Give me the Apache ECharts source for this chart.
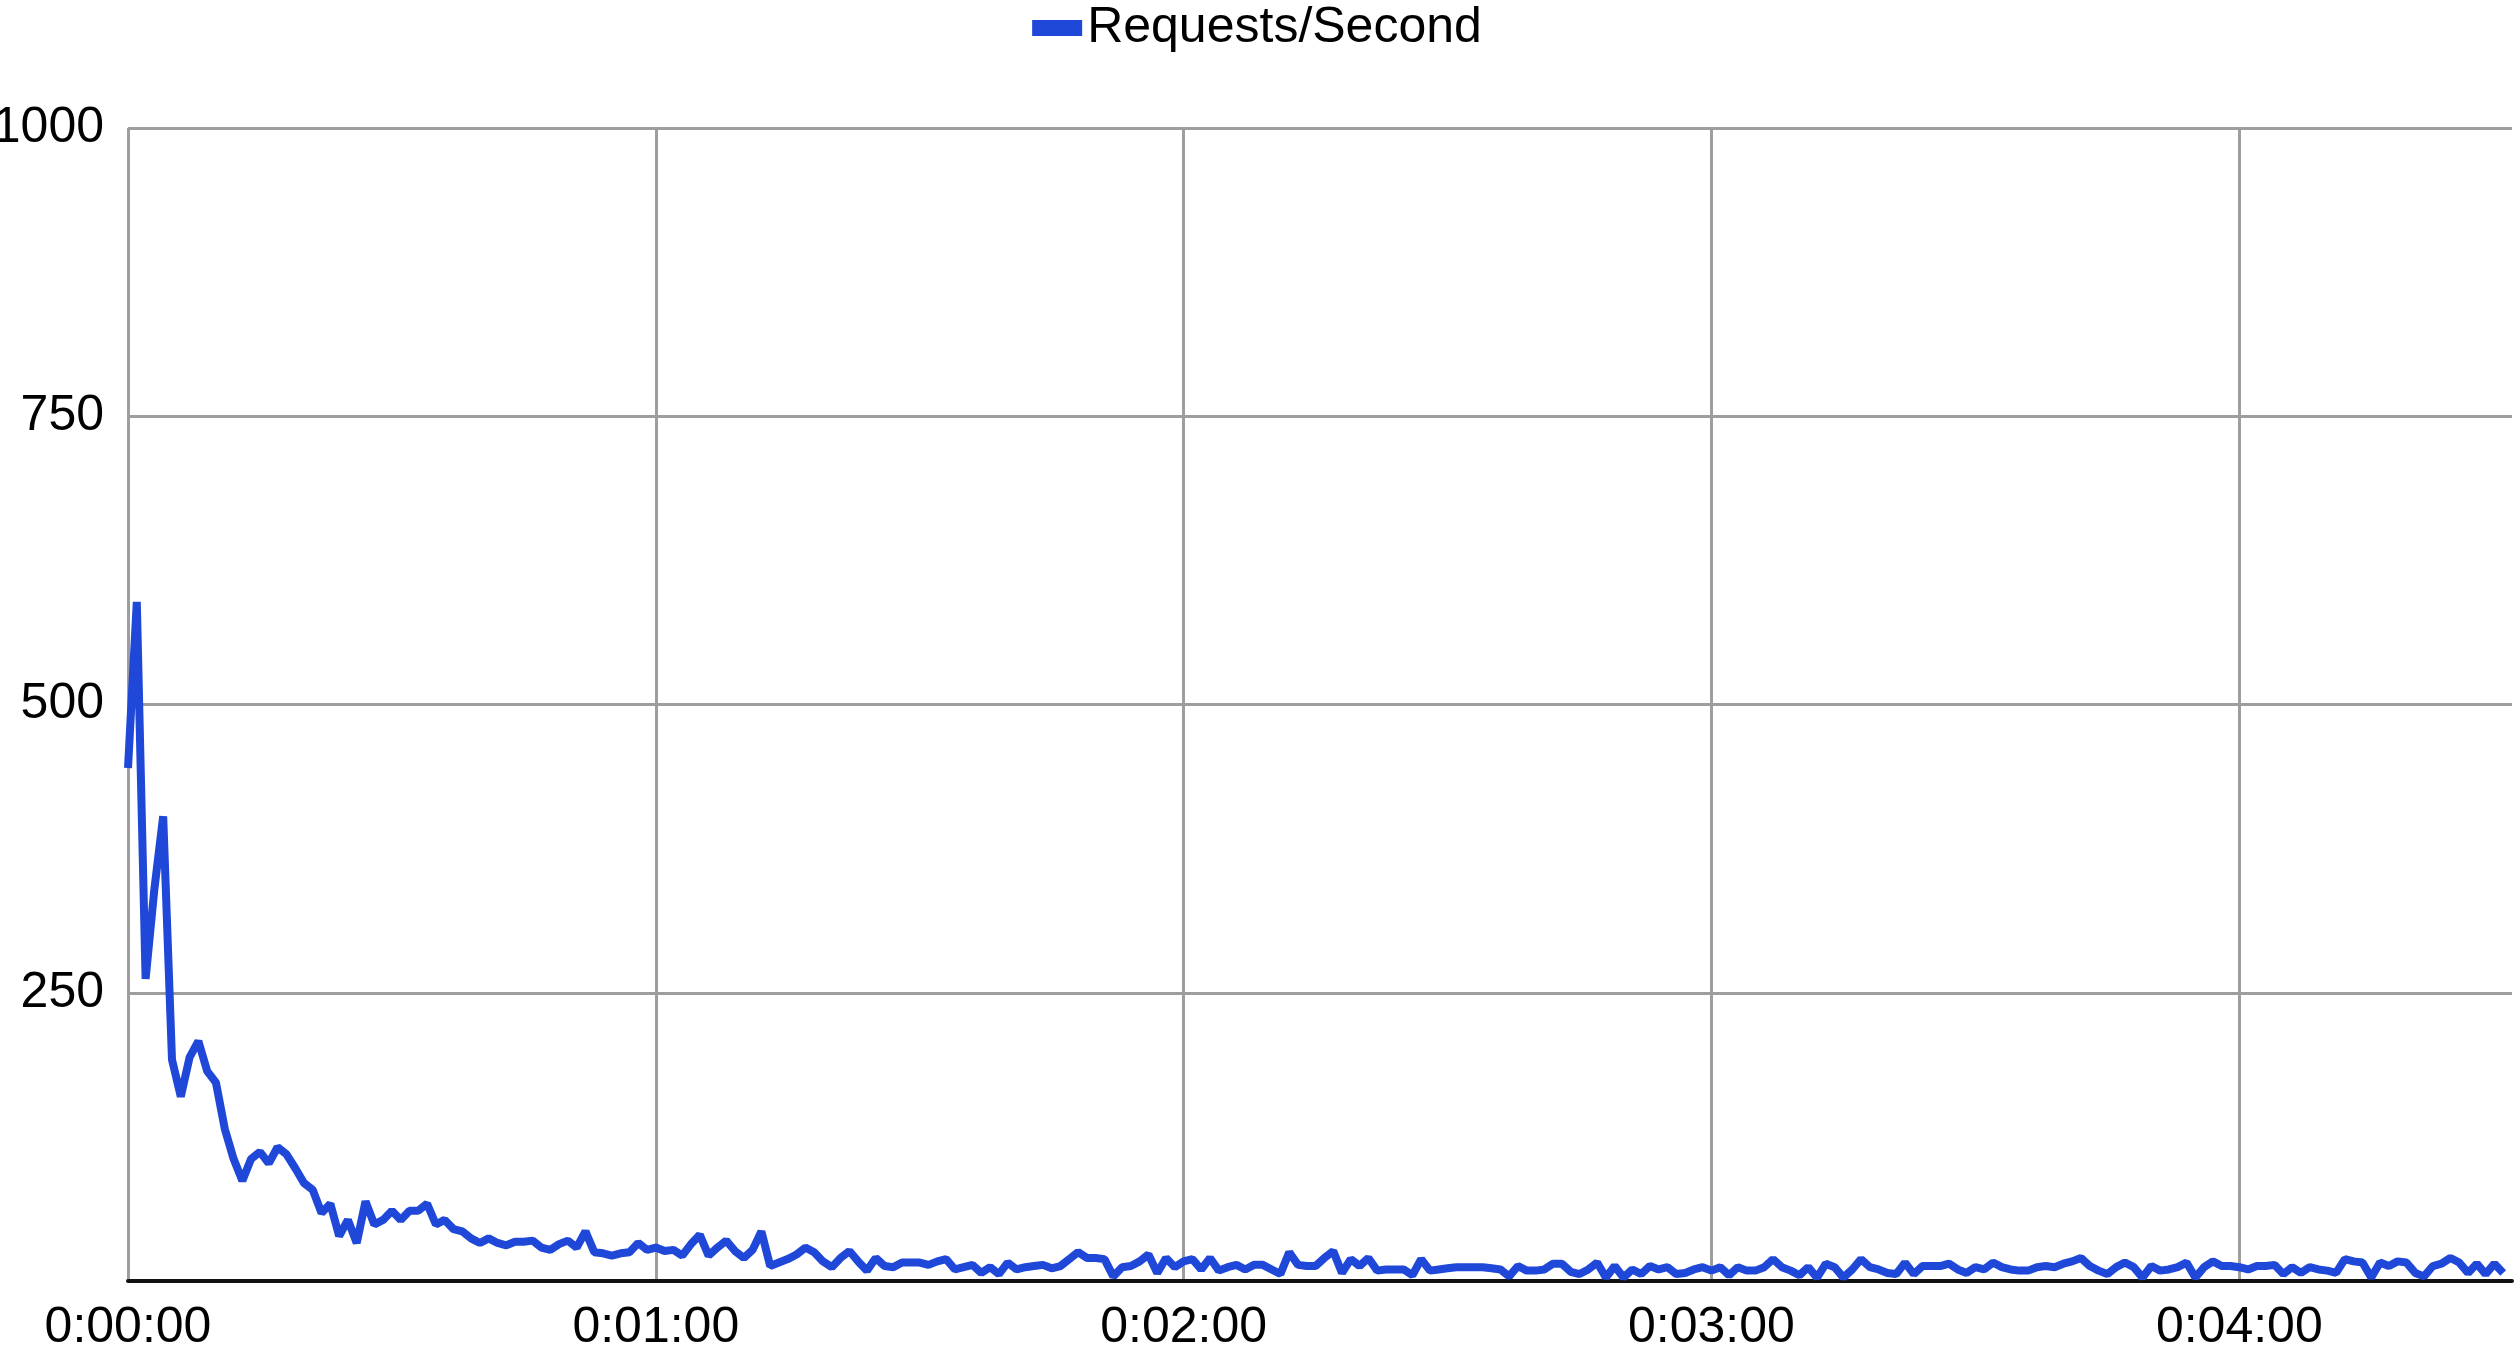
<!DOCTYPE html>
<html>
<head>
<meta charset="utf-8">
<script src="https://cdn.jsdelivr.net/npm/echarts@6/dist/echarts.min.js"></script>
<style>
html, body { margin: 0; padding: 0; background: #fff; }
#chart { width: 2514px; height: 1354px; }
</style>
</head>
<body>
<div id="chart"></div>
<script>
// 每秒请求数，从第 0 秒开始，每秒一个点
var seriesName = 'Requests/Second';
var requests = [
    445, 589, 262, 340, 403, 192, 160, 194, 208, 182,
    172, 132, 106, 87, 106, 112, 102, 116, 110, 98,
    85, 79, 59, 67, 39, 53, 33, 69, 49, 53,
    61, 53, 61, 61, 67, 49, 53, 45, 43, 37,
    33, 37, 33, 31, 34, 34, 35, 29, 27, 32,
    35, 29, 43, 25, 24, 22, 24, 25, 33, 27,
    29, 26, 27, 22, 32, 40, 22, 29, 35, 26,
    20, 27, 43, 13, 16, 19, 23, 29, 25, 17,
    12, 20, 26, 17, 9, 20, 13, 12, 16, 16,
    16, 14, 17, 19, 10, 12, 14, 7, 12, 6,
    16, 10, 12, 13, 14, 11, 13, 19, 25, 20,
    20, 19, 4, 12, 13, 17, 23, 7, 20, 12,
    17, 19, 10, 20, 9, 12, 14, 10, 14, 14,
    10, 6, 25, 14, 13, 13, 20, 26, 7, 19,
    13, 20, 9, 10, 10, 10, 5, 19, 9, 10,
    11, 12, 12, 12, 12, 11, 10, 4, 13, 9,
    9, 10, 15, 15, 8, 6, 10, 16, 3, 13,
    3, 10, 6, 13, 10, 12, 6, 7, 10, 12,
    9, 12, 5, 12, 9, 9, 12, 19, 12, 9,
    5, 12, 3, 15, 12, 3, 10, 19, 12, 10,
    7, 6, 16, 6, 13, 13, 13, 15, 10, 7,
    12, 10, 16, 12, 10, 9, 9, 12, 13, 12,
    15, 17, 20, 13, 9, 6, 12, 16, 12, 3,
    13, 9, 10, 12, 16, 3, 12, 17, 13, 13,
    12, 10, 13, 13, 14, 6, 12, 7, 12, 10,
    9, 7, 19, 17, 16, 3, 16, 13, 17, 16,
    7, 4, 13, 15, 20, 16, 7, 15, 6, 15,
    7
];
var yTicks = [0, 250, 500, 750, 1000];

function fmtTime(s) {
    var m = Math.floor(s / 60);
    var sec = s % 60;
    return '0:' + (m < 10 ? '0' : '') + m + ':' + (sec < 10 ? '0' : '') + sec;
}

var points = [];
for (var i = 0; i < requests.length; i++) {
    points.push([i, requests[i]]);
}

var chart = echarts.init(document.getElementById('chart'));
var font = 'Liberation Sans, Arial, sans-serif';
chart.setOption({
    backgroundColor: '#ffffff',
    animation: false,
    color: ['#1f48d8'],
    legend: {
        top: -2,
        left: 'center',
        itemWidth: 50,
        itemHeight: 16,
        itemGap: 34,
        textStyle: { fontFamily: font, fontSize: 50, color: '#000' },
        data: [{ name: seriesName, icon: 'rect' }]
    },
    grid: { left: 128, right: 2, top: 128, bottom: 73, containLabel: false, outerBoundsMode: 'none' },
    xAxis: {
        type: 'value',
        min: 0,
        max: 271,
        interval: 60,
        axisLine: { show: true, onZero: false, lineStyle: { color: '#111', width: 4 } },
        axisTick: { show: false },
        axisLabel: {
            fontFamily: font, fontSize: 50, color: '#000', margin: 22,
            showMaxLabel: false,
            formatter: function (v) { return v % 60 === 0 ? fmtTime(v) : ''; }
        },
        splitLine: { show: true, showMaxLine: false, lineStyle: { color: '#9e9e9e', width: 3 } }
    },
    yAxis: {
        type: 'value',
        min: yTicks[0],
        max: yTicks[yTicks.length - 1],
        interval: 250,
        axisLine: { show: false },
        axisTick: { show: false },
        axisLabel: {
            fontFamily: font, fontSize: 50, color: '#000', margin: 24,
            formatter: function (v) { return v === 0 ? '' : String(v); }
        },
        splitLine: { show: true, lineStyle: { color: '#9e9e9e', width: 3 } }
    },
    series: [{
        name: seriesName,
        type: 'line',
        showSymbol: false,
        lineStyle: { width: 8 },
        data: points
    }]
});
</script>
</body>
</html>
